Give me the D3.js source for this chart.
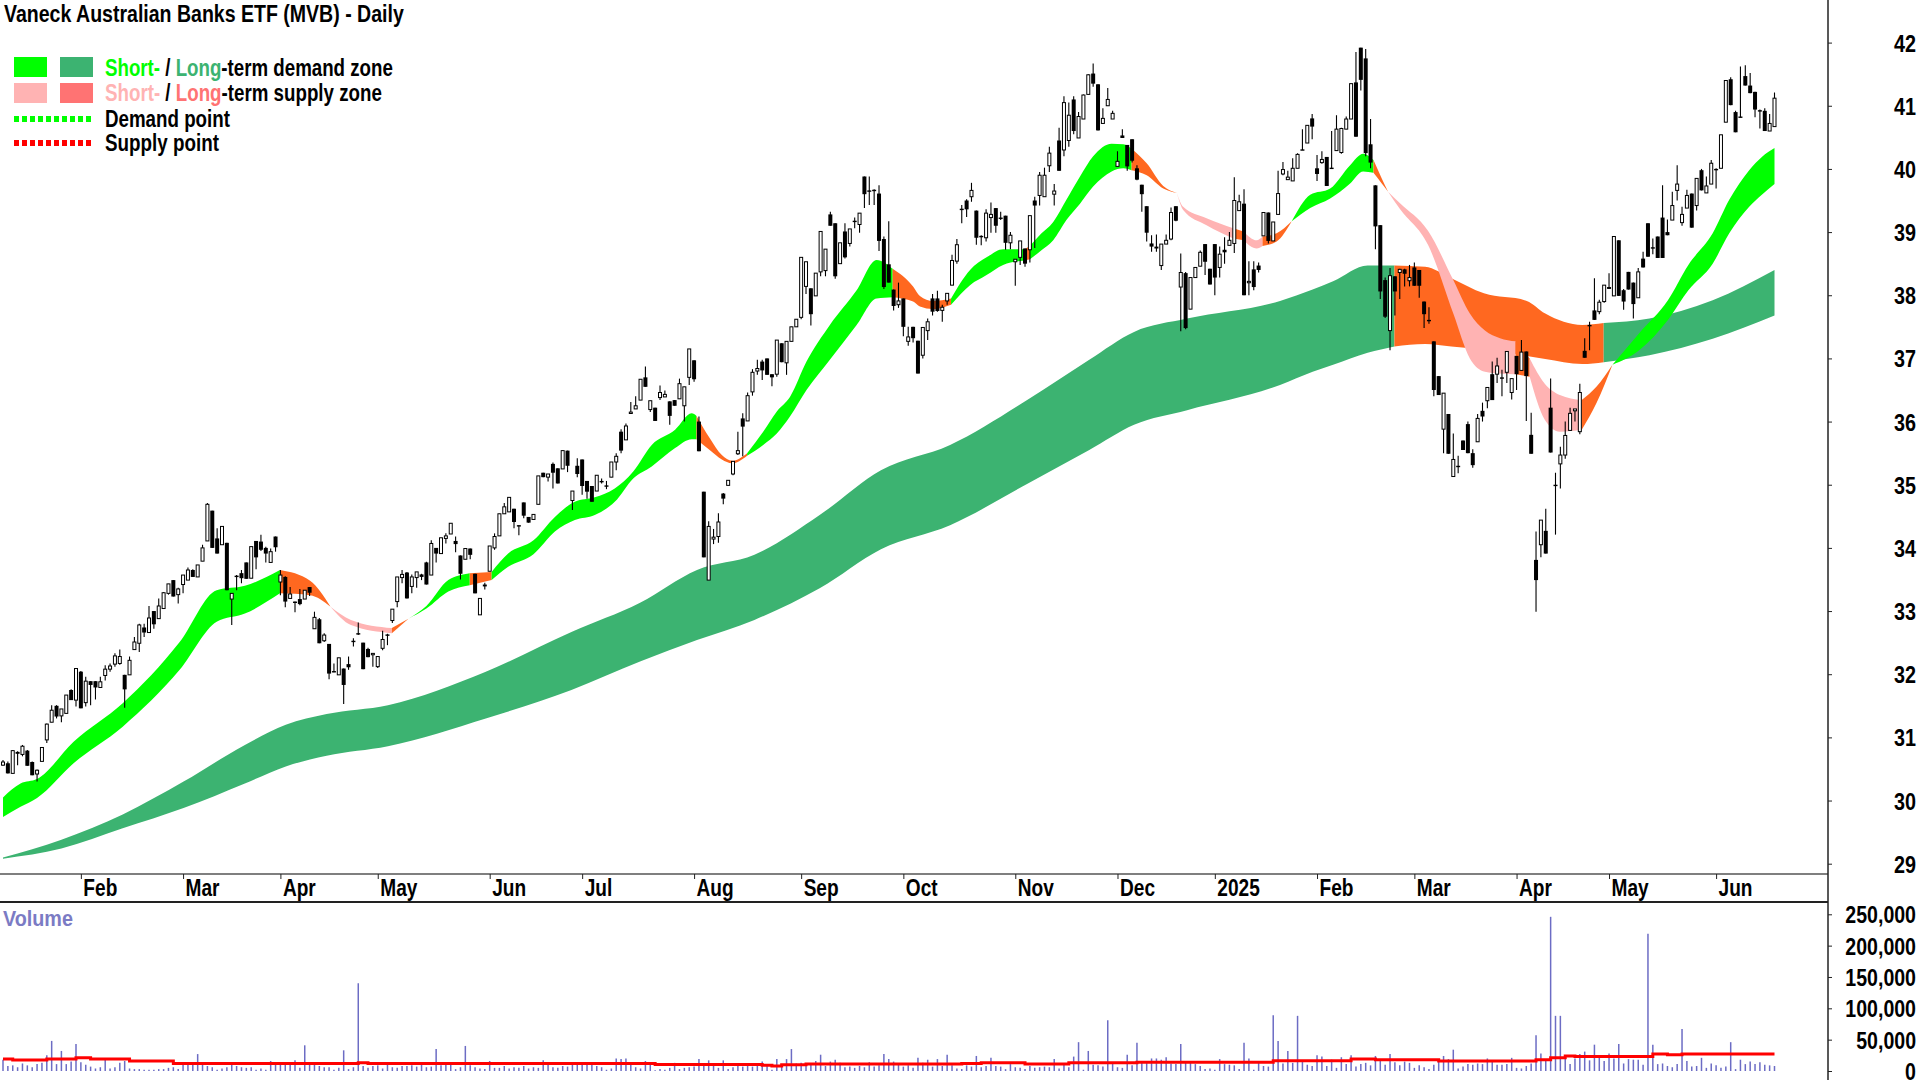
<!DOCTYPE html>
<html><head><meta charset="utf-8">
<script src="https://cdn.jsdelivr.net/npm/d3@7"></script>
<style>
html,body{margin:0;padding:0;background:#fff;overflow:hidden}
svg{display:block}
text{font-family:"Liberation Sans",Arial,sans-serif;font-weight:700;fill:#000}
</style></head><body><svg id="c" width="1920" height="1080"></svg>
<script>
const titleText = "Vaneck Australian Banks ETF (MVB) - Daily";
const opens = [
30.56,30.59,30.43,30.77,30.73,30.79,30.61,30.42,30.62,30.96,
31.24,31.50,31.34,31.38,31.75,31.59,32.04,31.55,31.89,31.89,
31.79,31.98,32.08,32.16,32.17,31.99,31.99,32.39,32.49,32.74,
32.66,33.00,32.88,33.04,33.28,33.49,33.26,33.42,33.49,33.65,
33.54,33.79,34.11,34.59,34.15,34.05,34.08,33.19,33.56,33.60,
33.77,33.52,34.11,34.10,34.00,33.77,34.18,33.46,33.54,33.20,
33.15,33.19,33.19,33.38,32.72,32.87,32.53,32.48,32.05,31.99,
32.09,32.16,32.53,32.65,32.50,32.40,32.33,32.12,32.41,32.63,
32.85,33.15,33.53,33.61,33.39,33.53,33.58,33.77,33.57,34.00,
33.91,34.15,34.22,34.11,33.88,33.82,33.99,33.59,32.94,33.42,
33.63,34.00,34.19,34.54,34.57,34.62,34.36,34.72,34.49,34.45,
34.69,35.19,35.12,35.33,35.26,35.25,35.54,34.75,35.30,35.40,
35.06,34.98,34.90,35.06,34.99,35.12,35.36,35.84,35.71,36.14,
36.20,36.34,36.70,36.19,36.22,36.38,36.39,36.32,36.34,36.36,
36.25,36.70,36.97,36.00,34.89,33.49,34.14,34.18,34.86,34.99,
35.17,35.49,36.05,36.01,36.47,36.80,36.95,37.00,36.75,36.75,
37.24,36.93,37.27,37.50,37.65,38.14,38.11,37.99,38.37,38.39,
39.28,39.14,38.50,39.01,38.82,39.18,39.12,39.88,39.66,39.67,
39.61,38.89,38.49,38.09,37.85,37.95,37.27,37.50,37.28,37.05,
37.44,37.95,37.95,37.76,37.91,38.16,38.54,39.37,39.50,39.56,
39.34,38.94,38.91,39.23,39.38,39.23,39.26,38.83,38.53,38.60,
38.74,38.72,39.50,39.58,39.56,40.05,39.60,40.45,40.30,40.45,
41.10,40.49,40.79,41.18,41.51,41.34,40.72,41.00,40.79,40.04,
40.53,40.38,40.47,40.01,39.75,39.41,38.82,38.77,38.47,38.81,
38.89,39.41,38.13,38.35,37.78,38.28,38.46,38.81,38.42,38.81,
38.44,38.72,38.79,38.82,39.34,39.45,38.22,38.41,38.47,38.94,
39.31,38.86,39.28,39.92,39.83,39.81,40.01,40.31,40.41,40.80,
40.01,40.10,40.19,40.02,40.29,40.26,40.63,40.79,41.37,41.92,
41.75,40.39,39.74,39.11,38.24,37.44,38.30,38.36,38.41,38.23,
38.44,38.40,37.90,37.61,37.27,36.72,35.88,36.12,35.13,35.30,
35.70,35.96,35.50,35.68,36.17,36.33,36.75,36.75,36.70,36.78,
36.46,37.04,36.81,37.11,35.79,33.81,34.05,34.27,36.22,35.00,
35.33,35.47,35.86,36.17,35.84,37.12,37.53,37.76,37.74,37.90,
38.13,37.99,38.87,38.08,38.37,38.20,37.96,38.58,39.14,38.76,
38.93,39.23,39.00,39.19,39.66,39.15,39.38,39.61,39.42,39.98,
39.62,39.76,40.00,40.01,40.74,41.42,40.90,40.83,41.47,41.32,
41.22,40.93,40.92,40.60,40.67];
const highs = [
30.64,30.62,30.80,30.78,30.88,30.80,30.62,30.49,30.84,31.22,
31.51,31.51,31.45,31.67,31.76,32.09,32.05,31.96,31.89,31.89,
31.96,32.14,32.17,32.33,32.39,31.99,32.28,32.59,32.80,32.80,
33.08,33.00,33.20,33.30,33.43,33.49,33.37,33.57,33.69,33.66,
33.73,34.05,34.71,34.59,34.31,34.34,34.08,33.28,33.57,33.65,
33.77,34.02,34.11,34.21,34.02,33.99,34.18,33.65,33.55,33.38,
33.15,33.35,33.33,33.38,32.99,32.89,32.65,32.48,32.17,32.26,
32.09,32.28,32.57,32.82,32.50,32.42,32.33,32.28,32.69,32.64,
33.03,33.54,33.65,33.62,33.58,33.62,33.59,33.78,34.12,34.00,
34.16,34.23,34.39,34.18,33.88,33.99,33.99,33.59,33.20,33.45,
34.03,34.23,34.54,34.71,34.80,34.62,34.36,34.72,34.49,34.53,
35.14,35.19,35.17,35.35,35.26,35.54,35.54,34.90,35.42,35.40,
35.06,34.98,35.15,35.10,35.06,35.36,35.50,35.88,35.97,36.31,
36.40,36.67,36.87,36.33,36.22,36.57,36.49,36.32,36.34,36.68,
36.55,37.15,36.97,36.08,34.89,34.42,34.30,34.55,34.87,35.07,
35.37,35.84,36.13,36.46,36.83,36.98,36.98,37.00,36.75,37.29,
37.24,37.27,37.50,37.62,38.60,38.53,38.11,38.35,39.01,38.73,
39.32,39.14,38.83,39.14,39.05,39.23,39.30,39.88,39.88,39.68,
39.74,38.93,39.17,38.09,38.20,37.95,37.50,37.50,37.28,37.49,
37.63,38.02,38.07,37.85,38.03,38.64,38.89,39.43,39.52,39.78,
39.34,38.95,39.36,39.47,39.38,39.32,39.26,39.00,38.57,38.86,
38.74,39.26,39.56,39.95,40.02,40.35,39.76,40.65,41.15,41.05,
41.15,40.90,41.18,41.50,41.67,41.34,40.96,41.28,40.92,40.28,
40.63,40.38,40.47,40.06,39.75,39.41,38.95,38.96,38.81,38.96,
39.39,39.41,38.66,38.37,38.28,38.44,38.71,38.81,38.42,38.81,
38.77,38.92,39.00,39.87,39.59,39.68,38.54,38.54,38.52,39.31,
39.31,39.16,39.97,40.11,39.97,40.17,40.25,40.63,40.69,40.87,
40.22,40.28,40.19,40.60,40.85,40.65,40.83,41.35,41.85,41.92,
41.90,40.79,39.74,39.11,38.28,38.43,38.30,38.42,38.42,38.48,
38.52,38.40,37.90,37.81,37.27,36.72,36.45,36.12,35.81,35.46,
35.70,36.00,35.56,36.12,36.30,36.54,36.95,37.01,36.82,37.11,
36.68,37.04,37.29,37.11,36.14,34.26,34.44,34.62,36.68,35.19,
35.60,36.00,36.22,36.20,36.60,37.32,37.58,38.27,37.93,38.16,
38.35,38.93,38.87,38.10,38.37,38.20,38.43,38.69,39.14,38.90,
38.93,39.74,39.20,39.64,40.06,39.40,39.67,39.61,39.85,40.00,
39.88,40.14,40.01,40.54,41.40,41.45,40.92,41.62,41.64,41.52,
41.22,40.94,40.96,40.87,41.21];
const lows = [
30.55,30.43,30.43,30.56,30.70,30.55,30.40,30.30,30.62,30.91,
31.24,31.30,31.24,31.38,31.59,31.49,31.46,31.49,31.51,31.60,
31.79,31.90,32.04,32.12,32.15,31.47,31.99,32.39,32.35,32.59,
32.66,32.72,32.88,33.04,33.26,33.23,33.12,33.28,33.49,33.54,
33.54,33.79,34.11,34.00,33.91,34.05,33.33,32.78,33.33,33.44,
33.51,33.52,33.66,33.95,33.77,33.77,33.94,33.25,33.06,33.20,
32.98,33.09,33.19,33.24,32.72,32.49,32.51,31.92,32.03,31.99,
31.53,32.07,32.44,32.62,32.08,32.27,32.12,32.10,32.38,32.46,
32.81,33.06,33.44,33.20,33.28,33.37,33.49,33.42,33.57,33.77,
33.91,34.07,34.22,33.93,33.50,33.82,33.82,33.28,32.94,33.34,
33.63,33.97,34.19,34.54,34.57,34.31,34.20,34.47,34.40,34.45,
34.69,35.12,35.05,34.94,35.02,35.25,35.20,34.60,35.12,34.84,
34.78,34.73,34.90,35.02,34.93,35.12,35.23,35.50,35.71,36.13,
36.20,36.34,36.55,36.15,36.01,36.34,36.39,35.95,36.25,36.36,
36.00,36.58,36.63,35.53,33.85,33.49,34.06,34.08,34.69,34.99,
35.15,35.47,35.45,36.01,36.41,36.74,36.66,36.74,36.56,36.71,
36.94,36.74,37.27,37.50,37.62,38.02,37.52,37.99,38.30,38.30,
39.10,38.26,38.50,38.58,38.77,39.06,38.99,39.38,39.43,39.43,
38.70,38.10,38.20,37.76,37.80,37.35,37.20,37.25,36.76,37.00,
37.29,37.68,37.74,37.58,37.85,38.16,38.50,39.14,39.24,39.48,
38.80,38.79,38.85,38.99,38.99,39.19,38.72,38.73,38.15,38.48,
38.45,38.52,38.75,39.42,39.56,39.95,39.42,39.97,40.20,40.35,
40.55,40.49,40.79,41.18,41.30,40.61,40.72,41.00,40.79,40.04,
40.49,39.97,40.10,39.82,39.32,38.85,38.69,38.69,38.40,38.81,
38.87,39.17,37.43,37.46,37.78,38.28,38.46,38.32,38.17,38.00,
38.28,38.50,38.79,38.67,39.34,38.00,38.00,38.08,38.36,38.94,
38.82,38.86,39.28,39.90,39.83,39.81,40.01,40.30,40.41,40.47,
39.81,40.08,39.73,40.00,40.29,40.24,40.63,40.79,40.51,41.24,
40.20,40.01,38.73,37.94,37.64,37.13,37.68,37.94,38.14,38.14,
38.15,37.96,37.48,37.55,36.40,36.42,35.50,35.49,35.13,35.18,
35.55,35.50,35.27,35.68,36.00,36.21,36.34,36.61,36.40,36.61,
36.35,36.50,36.81,36.01,35.49,32.99,33.85,33.91,35.51,34.21,
34.94,35.41,35.86,36.00,35.80,37.01,37.13,37.61,37.70,37.88,
38.10,37.99,37.99,37.77,38.09,37.63,37.96,38.44,38.61,38.65,
38.59,38.59,38.95,39.19,39.50,39.10,39.38,39.07,39.34,39.66,
39.62,39.76,39.69,40.01,40.74,41.01,40.58,40.82,41.32,41.20,
40.82,40.64,40.60,40.60,40.67];
const closes = [
30.61,30.43,30.79,30.74,30.86,30.55,30.40,30.48,30.84,31.21,
31.43,31.33,31.45,31.67,31.59,32.09,31.46,31.89,31.83,31.79,
31.88,32.08,32.13,32.29,32.28,31.76,32.22,32.51,32.78,32.66,
32.89,32.79,33.08,33.29,33.43,33.23,33.35,33.57,33.65,33.54,
33.73,34.00,34.69,34.00,33.91,34.34,33.33,33.28,33.55,33.52,
33.51,34.02,33.85,33.97,33.91,33.94,34.01,33.57,33.15,33.27,
33.13,33.11,33.33,33.29,32.90,32.49,32.62,32.01,32.03,32.26,
31.83,32.11,32.52,32.63,32.08,32.27,32.33,32.28,32.55,32.62,
33.03,33.54,33.58,33.20,33.54,33.62,33.54,33.42,34.07,33.91,
34.16,34.19,34.39,34.06,33.59,33.99,33.89,33.28,33.20,33.39,
34.03,34.18,34.54,34.65,34.80,34.41,34.35,34.51,34.40,34.53,
35.14,35.12,35.17,35.19,35.02,35.54,35.30,34.90,35.17,34.98,
34.89,34.73,35.15,35.04,34.98,35.36,35.45,35.54,35.93,36.15,
36.25,36.67,36.55,36.33,36.01,36.46,36.43,36.09,36.25,36.60,
36.55,37.15,36.67,35.53,33.85,34.34,34.17,34.41,34.78,35.07,
35.37,35.54,35.92,36.41,36.78,36.84,36.81,36.74,36.70,37.29,
36.94,37.27,37.50,37.62,38.60,38.53,37.70,38.35,39.01,38.73,
39.10,38.30,38.83,38.60,39.05,39.17,39.30,39.60,39.65,39.65,
38.86,38.13,38.20,37.83,37.91,37.50,37.34,37.32,36.76,37.49,
37.58,37.74,37.75,37.81,38.03,38.55,38.80,39.36,39.36,39.66,
38.91,38.93,39.30,39.28,39.10,39.22,38.83,38.95,38.57,38.86,
38.50,39.26,39.42,39.90,39.90,40.25,39.65,39.97,41.05,40.85,
40.60,40.83,41.17,41.49,41.35,40.61,40.80,41.10,40.88,40.12,
40.49,40.04,40.13,39.83,39.60,38.99,38.77,38.74,38.81,38.87,
39.31,39.18,38.36,37.48,38.28,38.44,38.68,38.53,38.17,38.28,
38.65,38.68,38.87,39.50,39.48,38.00,38.22,38.13,38.40,39.31,
38.86,39.16,39.61,39.99,39.87,40.01,40.23,40.30,40.69,40.67,
39.92,40.15,39.73,40.01,40.63,40.64,40.79,41.35,40.51,41.41,
40.25,40.10,39.09,38.06,37.66,38.31,38.06,38.41,38.34,38.28,
38.15,38.15,37.70,37.60,36.50,36.42,36.45,35.49,35.40,35.29,
35.55,35.50,35.31,36.05,36.08,36.54,36.34,36.88,36.68,37.11,
36.68,36.75,37.10,36.72,35.49,33.49,34.44,33.91,35.51,34.99,
35.47,35.78,36.13,36.20,36.46,37.01,37.52,37.61,37.89,38.16,
38.10,38.93,37.99,37.90,38.09,37.86,38.37,38.44,38.61,38.75,
38.59,38.59,38.95,39.42,39.76,39.28,39.58,39.07,39.85,39.66,
39.73,40.09,39.99,40.54,41.40,41.01,40.58,40.82,41.32,41.20,
40.94,40.92,40.60,40.72,41.12];
// volume, in thousands of units
const volumes = [
18,8,9,6,12,9,6,11,13,25,
48,11,32,11,15,43,14,10,7,4,
6,18,4,6,13,16,4,3,3,2,
2,2,3,3,5,6,3,13,10,11,
27,12,8,6,2,4,6,14,8,6,
5,6,2,4,2,16,11,13,11,11,
17,5,41,11,10,8,6,6,2,5,
33,3,6,140,8,5,8,9,4,13,
6,5,8,8,9,7,13,6,7,35,
9,11,13,3,6,40,9,6,4,3,
16,5,5,8,4,6,5,8,4,6,
5,17,10,6,5,8,7,13,12,11,
13,11,8,6,2,4,20,19,20,11,
6,4,16,13,1,3,2,5,13,3,
5,6,7,19,8,17,9,5,17,3,
6,8,7,9,7,8,15,10,2,19,
9,19,35,12,13,11,12,16,26,8,
15,18,13,6,7,5,8,6,14,7,
9,27,19,15,12,7,9,5,21,13,
18,7,19,8,26,9,4,3,9,7,
24,6,8,21,8,7,3,11,6,5,
3,8,5,6,7,6,19,4,11,6,
23,46,2,32,10,9,7,81,12,6,
5,26,9,45,13,15,20,20,18,22,
12,11,43,16,14,11,8,3,4,2,
19,11,10,9,3,45,20,2,15,8,
7,89,48,12,32,13,88,15,10,8,
25,23,8,18,5,22,11,25,7,11,
13,9,24,18,10,27,14,9,15,13,
5,9,6,3,10,18,24,19,34,4,
7,11,10,12,11,20,17,10,10,11,
21,5,4,8,12,57,28,16,246,88,
88,22,11,20,27,31,17,42,25,16,
28,20,43,12,19,18,18,10,219,42,
11,12,8,6,11,67,16,7,8,21,
5,12,9,5,7,46,3,18,11,15,
11,14,10,9,8];
const volAvgIdx = [0,2,9,15,18,26,35,73,75,134,156,158,160,165,197,201,210,219,233,261,277,282,295,315,318,321,323,339,342,345,364];
const volAvgVal = [19,17.5,19,21,19,16,12,13,12,10.5,9,8,10,11,12,13,11,13,14,16.5,19,18,16,18,21,24,23,27,26,27,27];

const shortIdx = [0,3.6,7,14.5,24.6,36.3,43.9,49.7,56.9,63.1,67.3,71.5,79.9,83.3,87,91.5,95.9,100.4,103.8,109,113.4,117.5,121.6,125.7,129.5,133.3,138.1,141.5,142.5,145.2,147.7,149.8,152.9,156.2,159,161.7,165.1,169.9,175.4,179.5,182.8,187,188.4,191.1,194.8,198.7,202.1,205.5,209.9,211,213,215.8,218.5,221.3,224,227.8,230.2,231.9,235,238.4,241.2,242.5,247.3,252.8,254.9,257.6,258.8,261.7,264.8,268.6,272.7,276.8,279.5,281.6,283.3,284.6,287,292.8,298,301.4,304.5,307.6,310.8,313.7,316.8,319.9,324.4,327.4,330.7,336.2,342.1,346.3,351.3,354.7,358.8,361.4,364];
const shortUpper = [30.05,30.27,30.34,30.93,31.54,32.51,33.33,33.40,33.65,33.48,33.07,32.86,32.73,32.88,33.08,33.49,33.60,33.62,33.91,34.12,34.49,34.73,34.80,34.94,35.21,35.63,35.87,36.13,36.09,35.74,35.47,35.38,35.50,35.84,36.16,36.39,36.95,37.53,38.08,38.56,38.42,38.14,37.99,37.91,37.95,38.40,38.60,38.73,38.73,38.78,38.95,39.16,39.51,39.88,40.20,40.40,40.39,40.32,40.09,39.73,39.62,39.40,39.22,39.06,39.01,38.87,38.93,38.98,39.17,39.59,39.69,40.06,40.24,40.14,39.85,39.64,39.46,39.02,38.24,37.71,37.44,37.32,37.27,37.00,36.60,36.42,36.34,36.55,36.90,37.40,37.92,38.48,38.98,39.51,39.98,40.19,40.33];
const shortLower = [29.74,29.90,30.04,30.59,31.17,32.07,32.83,32.96,33.28,33.25,33.07,32.78,32.65,32.88,33.04,33.31,33.41,33.49,33.70,33.90,34.26,34.44,34.52,34.73,35.10,35.29,35.58,35.72,35.72,35.55,35.40,35.34,35.46,35.63,35.81,36.08,36.50,36.98,37.53,37.95,37.97,37.90,37.82,37.78,37.85,38.16,38.32,38.48,38.55,38.57,38.69,38.87,39.19,39.45,39.72,39.96,40.01,39.98,39.90,39.69,39.62,39.35,39.11,38.90,38.87,38.74,38.78,38.85,39.17,39.38,39.53,39.77,39.96,39.94,39.77,39.64,39.37,38.80,37.71,37.00,36.79,36.76,36.75,36.71,36.03,35.84,35.87,36.29,36.90,37.13,37.61,38.08,38.50,38.98,39.40,39.59,39.76];
const shortBreaks = [0,56.9,67.3,79.9,83.3,95.9,100.4,142.5,152.9,182.8,194.8,209.9,211,231.9,241.2,252.8,254.9,258.8,264.8,281.6,284.6,310.8,313.7,324.4,330.7,364];
const shortKinds = ["d","s","p","s","d","s","d","s","d","s","d","s","d","s","p","s","p","s","d","s","p","s","p","s","d"];

const longIdx = [0,12,24.6,37.1,49.7,58.1,66.5,79.1,99.2,116.8,130.9,142.6,154.4,167.8,180.4,194.6,210.6,223.2,232.4,243.3,262.4,269.1,273.3,280.4,285.9,292.2,297.6,304.3,313.1,316.9,324.5,328.9,338.3,351.3,364];
const longUpper = [29.10,29.38,29.78,30.30,30.88,31.20,31.37,31.51,32.04,32.67,33.13,33.65,33.89,34.52,35.23,35.63,36.35,36.98,37.42,37.63,37.91,38.09,38.22,38.47,38.47,38.45,38.27,38.03,37.91,37.71,37.53,37.56,37.63,37.92,38.40];
const longLower = [29.08,29.24,29.56,29.88,30.27,30.54,30.71,30.86,31.30,31.75,32.20,32.54,32.86,33.36,33.98,34.36,35.02,35.55,35.95,36.18,36.58,36.79,36.90,37.09,37.19,37.23,37.19,37.14,37.04,36.99,36.91,36.94,37.05,37.31,37.68];
const longBreaks = [0,285.9,328.9,364];
const longKinds = ["l","s","l"];

const monthIdx = [16,37,57,77,100,119,142,164,185,208,229,249,270,290,311,330,352];
const monthLabels = ["Feb","Mar","Apr","May","Jun","Jul","Aug","Sep","Oct","Nov","Dec","2025","Feb","Mar","Apr","May","Jun"];
const priceTicks = [29,30,31,32,33,34,35,36,37,38,39,40,41,42];
const volTicks = [0,50,100,150,200,250];

const zoneColor = {d:"#00FF00", l:"#3CB371", s:"#FF6820", p:"#FFB3B3"};
const svg = d3.select("#c");
const x = d3.scaleLinear().domain([0,opens.length-1]).range([3,1774.5]);
const y = d3.scaleLinear().domain([29,42]).range([863.7,42.6]);
const yv = d3.scaleLinear().domain([0,250]).range([1071,914.3]);

function drawBand(idx,up,lo,breaks,kinds){
  const pts = idx.map((d,i)=>({i:d,u:up[i],l:lo[i]}));
  const area = d3.area().x(d=>x(d.i)).y0(d=>y(d.l)).y1(d=>y(d.u)).curve(d3.curveMonotoneX);
  kinds.forEach((k,s)=>{
    const seg = pts.filter(p=>p.i>=breaks[s]&&p.i<=breaks[s+1]);
    svg.append("path").attr("d",area(seg)).attr("fill",zoneColor[k]);
  });
}
drawBand(longIdx,longUpper,longLower,longBreaks,longKinds);
drawBand(shortIdx,shortUpper,shortLower,shortBreaks,shortKinds);

// candles
const candles = opens.map((o,i)=>({i,o,h:highs[i],l:lows[i],c:closes[i]}));
const cg = svg.append("g");
cg.selectAll("line.w").data(candles).join("line").attr("class","w")
  .attr("x1",d=>x(d.i)).attr("x2",d=>x(d.i))
  .attr("y1",d=>y(d.h)).attr("y2",d=>y(d.l))
  .attr("stroke","#000").attr("stroke-width",1.1);
cg.selectAll("rect").data(candles).join("rect")
  .attr("x",d=>x(d.i)-(d.c<d.o?2:1.5))
  .attr("width",d=>d.c<d.o?4:3)
  .attr("y",d=>y(Math.max(d.o,d.c)))
  .attr("height",d=>Math.max(1.4,Math.abs(y(d.o)-y(d.c))))
  .attr("fill",d=>d.c<d.o?"#000":"#fff")
  .attr("stroke",d=>d.c<d.o?"none":"#000").attr("stroke-width",1);

// volume
const vg = svg.append("g");
vg.selectAll("line").data(volumes).join("line")
  .attr("x1",(d,i)=>x(i)).attr("x2",(d,i)=>x(i))
  .attr("y1",yv(0)).attr("y2",d=>yv(d))
  .attr("stroke","#6C6CC4").attr("stroke-width",1.5);
const avgPts = volAvgVal.map((v,i)=>[volAvgIdx[i],v]);
svg.append("path")
  .attr("d",d3.line().x(d=>x(d[0])).y(d=>yv(d[1])).curve(d3.curveStepAfter)(avgPts))
  .attr("fill","none").attr("stroke","#FF0000").attr("stroke-width",3);

// frame lines
const rule=(x1,y1,x2,y2,c,w)=>svg.append("line").attr("x1",x1).attr("y1",y1).attr("x2",x2).attr("y2",y2).attr("stroke",c).attr("stroke-width",w);
rule(0,874,1828,874,"#555",1.5);
rule(0,902,1828,902,"#222",2);
rule(1828,0,1828,1080,"#222",1.5);

// horizontally squeezed labels: the reference face is narrow and tall
function squeeze(sel,dx,k){
  sel.attr("x",0).attr("transform",`translate(${dx},0) scale(${k},1)`);
}
const axisFont = '"Liberation Sans"';
// axes
const monthAxis = d3.axisBottom(x).tickValues(monthIdx).tickSize(5).tickFormat((d,i)=>monthLabels[i]);
const mg = svg.append("g").attr("transform","translate(0,874)").call(monthAxis);
mg.select(".domain").remove();
mg.selectAll("line").attr("stroke","#222");
mg.selectAll("text").attr("text-anchor","start").attr("y",22.5).attr("dy",0).style("font-size","23px").style("font-family",axisFont).call(squeeze,2,0.83);

const pAxis = d3.axisRight(y).tickValues(priceTicks).tickSize(4).tickFormat(d3.format("d"));
const pg = svg.append("g").attr("transform","translate(1828,0)").call(pAxis);
pg.select(".domain").remove();
pg.selectAll("line").attr("stroke","#222");
pg.selectAll("text").attr("text-anchor","end").attr("dy",8.5).style("font-size","23px").style("font-family",axisFont).call(squeeze,88,0.86);

const vAxis = d3.axisRight(yv).tickValues(volTicks).tickSize(4).tickFormat(d=>d3.format(",")(d*1000));
const vag = svg.append("g").attr("transform","translate(1828,0)").call(vAxis);
vag.select(".domain").remove();
vag.selectAll("line").attr("stroke","#222");
vag.selectAll("text").attr("text-anchor","end").attr("dy",8.5).style("font-size","23px").style("font-family",axisFont).call(squeeze,88,0.85);

// title, volume label, legend text
function placed(xp,yb,parts,targetW,size){
  const t=svg.append("text").attr("transform",`translate(${xp},${yb})`).style("font-size",size+"px");
  parts.forEach(p=>t.append("tspan").style("fill",p[1]).text(p[0]));
  const w=t.node().getComputedTextLength();
  t.attr("transform",`translate(${xp},${yb}) scale(${targetW/w},1)`);
}
placed(4,22,[[titleText,"#000"]],400,23);
placed(3,926,[["Volume","#7B7BC4"]],70,22);

// legend
const sw=[[14,57,"#00FF00"],[60,57,"#3CB371"],[14,83,"#FFB3B3"],[60,83,"#FF7373"]];
svg.selectAll("rect.sw").data(sw).join("rect").attr("class","sw")
  .attr("x",d=>d[0]).attr("y",d=>d[1]).attr("width",33).attr("height",20).attr("fill",d=>d[2]);
rule(14,119,92,119,"#00FF00",6).attr("stroke-dasharray","5 3");
rule(14,143,92,143,"#FF0000",6).attr("stroke-dasharray","5 3");
placed(105,76,[["Short-","#00FF00"],[" / ","#000"],["Long","#3CB371"],["-term demand zone","#000"]],288,23);
placed(105,100.5,[["Short-","#FFB3B3"],[" / ","#000"],["Long","#FF7373"],["-term supply zone","#000"]],277,23);
placed(105,126.5,[["Demand point","#000"]],125,23);
placed(105,151,[["Supply point","#000"]],114,23);
</script></body></html>
